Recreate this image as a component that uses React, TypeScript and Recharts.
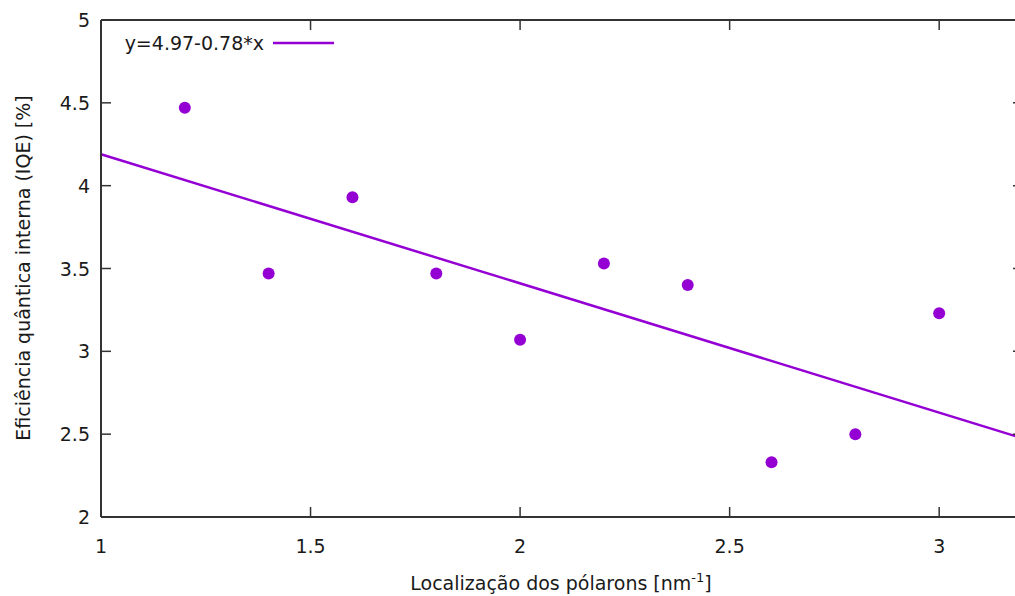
import React from 'react'
import { ComposedChart, Line, Scatter, XAxis, YAxis } from 'recharts'

const localizacao = [1.2, 1.4, 1.6, 1.8, 2.0, 2.2, 2.4, 2.6, 2.8, 3.0]
const iqe = [4.47, 3.47, 3.93, 3.47, 3.07, 3.53, 3.4, 2.33, 2.5, 3.23]
const xTicks = [1, 1.5, 2, 2.5, 3]
const yTicks = [2, 2.5, 3, 3.5, 4, 4.5, 5]
const xDomain = [1, 3.2]
const yDomain = [2, 5]
const fitIntercept = 4.97
const fitSlope = -0.78
const fitLabel = 'y=4.97-0.78*x'

const points = localizacao.map((x, i) => ({ x, y: iqe[i] }))
const fitLine = xDomain.map((x) => ({ x, y: fitIntercept + fitSlope * x }))

// gnuplot-style frame: inward tick marks on all four sides plus the top border
const bottomMarks = xTicks.map((x) => ({ x, y: yDomain[0] }))
const topMarks = xTicks.map((x) => ({ x, y: yDomain[1] }))
const leftMarks = yTicks.map((y) => ({ x: xDomain[0], y }))
const rightMarks = yTicks.map((y) => ({ x: xDomain[1], y }))
const topBorder = xDomain.map((x) => ({ x, y: yDomain[1] }))

const PURPLE = '#9400d3'
const AXIS = '#333333'
const TEXT = '#1a1a1a'
const FONT = '"DejaVu Sans", Verdana, sans-serif'
const FS = 19
const TICK = 10

const bottomTick = (props: any) => (
  <g>
    <text x={props.x} y={props.y + 36} textAnchor="middle" fontSize={FS} fontFamily={FONT} fill={TEXT}>
      {props.payload.value}
    </text>
    {props.index === 0 && (
      <text x={561} y={590} textAnchor="middle" fontSize={FS} fontFamily={FONT} fill={TEXT}>
        Localização dos pólarons [nm
        <tspan dy={-8} fontSize={13}>
          -1
        </tspan>
        <tspan dy={8}>]</tspan>
      </text>
    )}
  </g>
)

const leftTick = (props: any) => (
  <g>
    <text x={props.x - 11} y={props.y + 7} textAnchor="end" fontSize={FS} fontFamily={FONT} fill={TEXT}>
      {props.payload.value}
    </text>
    {props.index === 0 && (
      <g>
        <text
          x={30}
          y={268}
          transform="rotate(-90 30 268)"
          textAnchor="middle"
          fontSize={FS}
          fontFamily={FONT}
          fill={TEXT}
        >
          Eficiência quântica interna (IQE) [%]
        </text>
        <text x={264} y={50} textAnchor="end" fontSize={FS} fontFamily={FONT} fill={TEXT}>
          {fitLabel}
        </text>
        <line x1={273} x2={334} y1={43} y2={43} stroke={PURPLE} strokeWidth={2.5} />
      </g>
    )}
  </g>
)

const markShape = (dx: number, dy: number) => (p: any) =>
  <line x1={p.cx} y1={p.cy} x2={p.cx + dx} y2={p.cy + dy} stroke={AXIS} strokeWidth={1.5} />

export default function App() {
  return (
    <div
      style={{
        position: 'absolute',
        left: 0,
        top: 0,
        width: 1015,
        height: 596,
        overflow: 'hidden',
        background: '#fff',
      }}
    >
      <ComposedChart width={1026} height={596} margin={{ top: 20, right: 3, bottom: 19, left: 0 }}>
        <XAxis
          dataKey="x"
          type="number"
          domain={xDomain}
          ticks={xTicks}
          height={60}
          tickSize={0}
          tickMargin={0}
          tickLine={false}
          axisLine={{ stroke: AXIS, strokeWidth: 2 }}
          tick={bottomTick}
        />
        <YAxis
          type="number"
          domain={yDomain}
          ticks={yTicks}
          width={101}
          tickSize={0}
          tickMargin={0}
          tickLine={false}
          axisLine={{ stroke: AXIS, strokeWidth: 2 }}
          tick={leftTick}
        />
        <Line
          data={topBorder}
          dataKey="y"
          type="linear"
          stroke={AXIS}
          strokeWidth={2}
          dot={false}
          isAnimationActive={false}
        />
        <Scatter data={bottomMarks} dataKey="y" isAnimationActive={false} shape={markShape(0, -TICK)} />
        <Scatter data={topMarks} dataKey="y" isAnimationActive={false} shape={markShape(0, TICK)} />
        <Scatter data={leftMarks} dataKey="y" isAnimationActive={false} shape={markShape(TICK, 0)} />
        <Scatter data={rightMarks} dataKey="y" isAnimationActive={false} shape={markShape(-TICK, 0)} />
        <Line
          data={fitLine}
          dataKey="y"
          type="linear"
          stroke={PURPLE}
          strokeWidth={2.5}
          dot={false}
          isAnimationActive={false}
        />
        <Scatter
          data={points}
          dataKey="y"
          fill={PURPLE}
          isAnimationActive={false}
          shape={(p: any) => <circle cx={p.cx} cy={p.cy} r={6} fill={PURPLE} />}
        />
      </ComposedChart>
    </div>
  )
}
